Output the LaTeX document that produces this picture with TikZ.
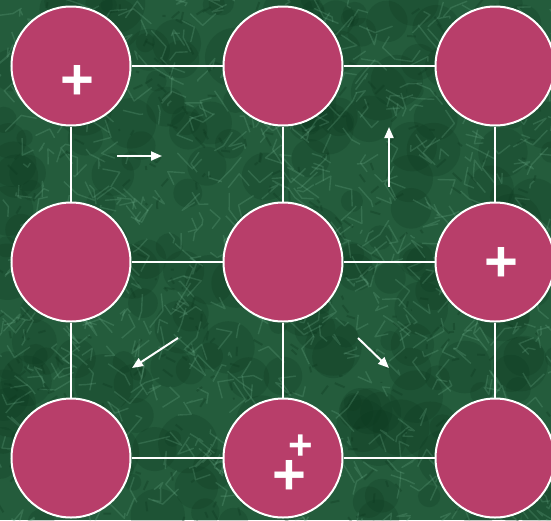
\documentclass[tikz,border=0pt]{standalone}
\usepackage{fontspec}
\setmainfont{Liberation Sans}
\usetikzlibrary{arrows.meta}
\definecolor{bgg}{RGB}{36,92,60}
\definecolor{bgdark}{RGB}{12,55,30}
\definecolor{vein}{RGB}{120,185,150}
\definecolor{dot}{RGB}{184,62,106}
\tikzset{
  dotnode/.style={circle,fill=dot,draw=white,line width=2pt,minimum size=119pt,inner sep=0pt},
  link/.style={white,line width=1.6pt},
  flow/.style={white,line width=2pt,-{Triangle[length=11pt,width=9pt]}},
  plusmark/.style={text=white,font=\bfseries\fontsize{58}{58}\selectfont,inner sep=0pt,anchor=center}
}
\begin{document}
\begin{tikzpicture}[x=1pt,y=-1pt]
\fill[bgg] (0,0) rectangle (551,520);
\useasboundingbox (0,0) rectangle (551,520);
% marble texture
\pgfmathsetseed{11}
\begin{scope}
\clip (0,0) rectangle (551,520);
\foreach \i in {1,...,220}{
  \pgfmathsetmacro{\xa}{rnd*560}
  \pgfmathsetmacro{\ya}{rnd*530}
  \pgfmathsetmacro{\r}{8+rnd*22}
  \fill[bgdark,opacity=0.22] (\xa,\ya) circle[radius=\r];
}
\foreach \i in {1,...,700}{
  \pgfmathsetmacro{\xa}{rnd*560}
  \pgfmathsetmacro{\ya}{rnd*530}
  \pgfmathsetmacro{\dx}{rand*18}
  \pgfmathsetmacro{\dy}{rand*18}
  \pgfmathsetmacro{\ex}{rand*18}
  \pgfmathsetmacro{\ey}{rand*18}
  \draw[vein,opacity=0.22,line width=1.4pt,line join=round] (\xa,\ya) -- ++(\dx,\dy) -- ++(\ex,\ey);
}
\foreach \i in {1,...,400}{
  \pgfmathsetmacro{\xa}{rnd*560}
  \pgfmathsetmacro{\ya}{rnd*530}
  \pgfmathsetmacro{\dx}{rand*10}
  \pgfmathsetmacro{\dy}{rand*10}
  \draw[bgdark,opacity=0.3,line width=2pt] (\xa,\ya) -- ++(\dx,\dy);
}
\end{scope}
% nodes
\node[dotnode] (n11) at (71,66) {};
\node[dotnode] (n12) at (283,66) {};
\node[dotnode] (n13) at (495,66) {};
\node[dotnode] (n21) at (71,262) {};
\node[dotnode] (n22) at (283,262) {};
\node[dotnode] (n23) at (495,262) {};
\node[dotnode] (n31) at (71,458) {};
\node[dotnode] (n32) at (283,458) {};
\node[dotnode] (n33) at (495,458) {};
% links
\draw[link] (n11) -- (n12);
\draw[link] (n12) -- (n13);
\draw[link] (n21) -- (n22);
\draw[link] (n22) -- (n23);
\draw[link] (n31) -- (n32);
\draw[link] (n32) -- (n33);
\draw[link] (n11) -- (n21);
\draw[link] (n21) -- (n31);
\draw[link] (n12) -- (n22);
\draw[link] (n22) -- (n32);
\draw[link] (n13) -- (n23);
\draw[link] (n23) -- (n33);
% plus marks
\node[plusmark] (p1) at (77,82) {+};
\node[plusmark] (p2) at (501,264) {+};
\node[plusmark,font=\bfseries\fontsize{42}{42}\selectfont] (p3) at (301,447) {+};
\node[plusmark] (p4) at (289,477) {+};
% arrows
\coordinate (a1s) at (117,156); \coordinate (a1e) at (162,156);
\coordinate (a2s) at (389,187); \coordinate (a2e) at (389,127);
\coordinate (a3s) at (178,338); \coordinate (a3e) at (132,368);
\coordinate (a4s) at (358,338); \coordinate (a4e) at (389,368);
\draw[flow] (a1s) -- (a1e);
\draw[flow] (a2s) -- (a2e);
\draw[flow] (a3s) -- (a3e);
\draw[flow] (a4s) -- (a4e);
\end{tikzpicture}
\end{document}
